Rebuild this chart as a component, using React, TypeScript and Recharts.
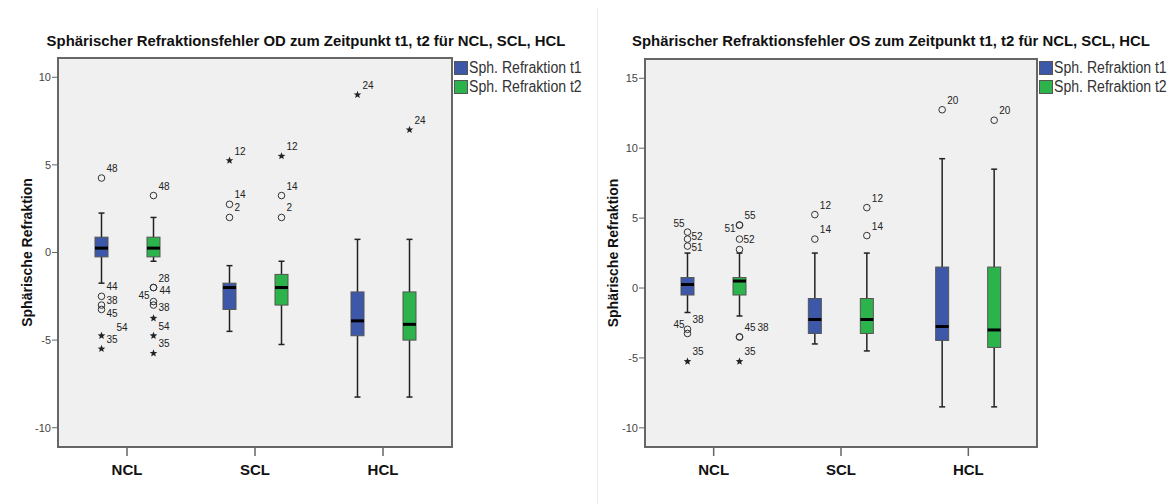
import { ComposedChart, Bar, XAxis, YAxis, CartesianGrid } from 'recharts';

const GROUPS = ['NCL', 'SCL', 'HCL'];
const SERIES_NAMES = ['Sph. Refraktion t1', 'Sph. Refraktion t2'];
const COLORS = ['#3D58A9', '#2DB34B'];
const FONT = '"Liberation Sans", Arial, sans-serif';
const FRAME = '#666';

// box summaries per group: [whisker low, Q1, median, Q3, whisker high]
const OD_T1 = [
  [-1.75, -0.25, 0.25, 0.875, 2.25],
  [-4.5, -3.25, -2.0, -1.75, -0.75],
  [-8.25, -4.75, -3.9, -2.25, 0.75],
];
const OD_T2 = [
  [-0.5, -0.25, 0.25, 0.875, 2.0],
  [-5.25, -3.0, -2.0, -1.25, -0.5],
  [-8.25, -5.0, -4.1, -2.25, 0.75],
];
const OS_T1 = [
  [-1.75, -0.5, 0.25, 0.75, 2.5],
  [-4.0, -3.25, -2.25, -0.75, 2.5],
  [-8.5, -3.75, -2.75, 1.5, 9.25],
];
const OS_T2 = [
  [-2.0, -0.5, 0.5, 0.75, 2.5],
  [-4.5, -3.25, -2.25, -0.75, 2.5],
  [-8.5, -4.25, -3.0, 1.5, 8.5],
];

// outliers per group: [value, case number, kind] (o = outlier, * = extreme)
type Out = [number, string, string];
const OD_T1_OUT: Out[][] = [
  [[4.25, '48', 'o'], [-2.5, '44', 'o'], [-3.0, '38', 'o'], [-3.25, '45', 'o'], [-4.75, '54', '*'], [-5.5, '35', '*']],
  [[5.25, '12', '*'], [2.75, '14', 'o'], [2.0, '2', 'o']],
  [[9.0, '24', '*']],
];
const OD_T2_OUT: Out[][] = [
  [[3.25, '48', 'o'], [-2.0, '28', 'o'], [-2.0, '44', 'o'], [-2.8, '45', 'o'], [-3.0, '38', 'o'], [-3.75, '', '*'], [-4.75, '54', '*'], [-5.75, '35', '*']],
  [[5.5, '12', '*'], [3.25, '14', 'o'], [2.0, '2', 'o']],
  [[7.0, '24', '*']],
];
const OS_T1_OUT: Out[][] = [
  [[4.0, '55', 'o'], [3.5, '52', 'o'], [3.0, '51', 'o'], [-2.95, '45', 'o'], [-3.25, '38', 'o'], [-5.25, '35', '*']],
  [[5.25, '12', 'o'], [3.5, '14', 'o']],
  [[12.75, '20', 'o']],
];
const OS_T2_OUT: Out[][] = [
  [[4.5, '55', 'o'], [4.5, '51', 'o'], [3.5, '52', 'o'], [2.75, '', 'o'], [-3.5, '45', 'o'], [-3.5, '38', 'o'], [-5.25, '35', '*']],
  [[5.75, '12', 'o'], [3.75, '14', 'o']],
  [[12.0, '20', 'o']],
];

const OD_TICKS = [-10, -5, 0, 5, 10];
const OS_TICKS = [-10, -5, 0, 5, 10, 15];

// label nudges where SPSS moved case numbers to avoid overlaps
const LABEL_NUDGE: Record<string, [number, number, string?]> = {
  'OD-NCL-0-38': [5, -1],
  'OD-NCL-0-45': [5, 8],
  'OD-NCL-0-54': [15, -5],
  'OD-NCL-1-44': [6, 6],
  'OD-NCL-1-45': [-4, -3, 'end'],
  'OD-NCL-1-38': [5, 6],
  'OS-NCL-0-55': [-3, -5, 'end'],
  'OS-NCL-0-52': [4, 1],
  'OS-NCL-0-51': [4, 5],
  'OS-NCL-0-45': [-3, -1, 'end'],
  'OS-NCL-0-38': [5, -10],
  'OS-NCL-1-51': [-4, 7, 'end'],
  'OS-NCL-1-52': [4, 4],
  'OS-NCL-1-38': [18, -6],
};

function buildRows(boxes: number[][][], outs: Out[][][]) {
  return GROUPS.map((g, i) => {
    const row: any = { name: g };
    boxes.forEach((b, s) => {
      const vals = [...b[i], ...outs[s][i].map((o) => o[0])];
      row['r' + s] = [Math.min(...vals), Math.max(...vals)];
      row['box' + s] = b[i];
      row['out' + s] = outs[s][i];
    });
    return row;
  });
}

function starPoints(cx: number, cy: number, R: number, r: number) {
  const pts: string[] = [];
  for (let k = 0; k < 10; k++) {
    const a = -Math.PI / 2 + (k * Math.PI) / 5;
    const rad = k % 2 === 0 ? R : r;
    pts.push(`${cx + rad * Math.cos(a)},${cy + rad * Math.sin(a)}`);
  }
  return pts.join(' ');
}

function BoxShape(props: any) {
  const { x, y, width, height, payload, s, chart } = props;
  const [lo, hi] = payload['r' + s];
  const top = Math.min(y, y + height);
  const bot = Math.max(y, y + height);
  const py = (v: number) => bot - ((v - lo) / (hi - lo || 1)) * (bot - top);
  const [wl, q1, med, q3, wh] = payload['box' + s];
  const cx = x + width / 2;
  const outs: Out[] = payload['out' + s];
  return (
    <g>
      <line x1={cx} x2={cx} y1={py(wl)} y2={py(wh)} stroke="#222" strokeWidth={1.5} />
      <line x1={cx - 3} x2={cx + 3} y1={py(wl)} y2={py(wl)} stroke="#222" strokeWidth={1.5} />
      <line x1={cx - 3} x2={cx + 3} y1={py(wh)} y2={py(wh)} stroke="#222" strokeWidth={1.5} />
      <rect x={x} y={py(q3)} width={width} height={py(q1) - py(q3)} fill={COLORS[s]} stroke="#555" strokeWidth={1} />
      <line x1={x} x2={x + width} y1={py(med)} y2={py(med)} stroke="#000" strokeWidth={3} />
      {outs.map(([v, lab, kind], k) => {
        const oy = py(v);
        const nudge = LABEL_NUDGE[`${chart}-${payload.name}-${s}-${lab}`] || [5, -6, 'start'];
        return (
          <g key={k}>
            {kind === 'o' ? (
              <circle cx={cx} cy={oy} r={3.3} fill="none" stroke="#333" strokeWidth={1} />
            ) : (
              <polygon points={starPoints(cx, oy, 4, 1.7)} fill="#222" />
            )}
            {lab && (
              <text x={cx + nudge[0]} y={oy + nudge[1]} fontSize={10} fill="#222" fontFamily={FONT} textAnchor={nudge[2] || 'start'}>
                {lab}
              </text>
            )}
          </g>
        );
      })}
    </g>
  );
}

interface PanelProps {
  id: string;
  title: string;
  rows: any[];
  domain: [number, number];
  ticks: number[];
  left: number;
  top: number;
  yWidth: number;
  plotWidth: number;
  titleX: number;
  labelX: number;
}

const PLOT_BOTTOM = 447;

function Panel({ id, title, rows, domain, ticks, left, top, yWidth, plotWidth, titleX, labelX }: PanelProps) {
  const bottom = 504 - PLOT_BOTTOM;
  return (
    <>
      <div style={{ position: 'absolute', left: titleX, top: 33, transform: 'translateX(-50%)', whiteSpace: 'nowrap', fontFamily: FONT, fontWeight: 'bold', fontSize: 14.9, lineHeight: '17px', color: '#111' }}>
        {title}
      </div>
      <div style={{ position: 'absolute', left, top: 0 }}>
        <ComposedChart
          width={yWidth + plotWidth + 4}
          height={504}
          data={rows}
          margin={{ top, right: 4, bottom: bottom - 40, left: 0 }}
          barGap={39}
          barSize={13}
        >
          <CartesianGrid horizontal={false} vertical={false} fill="#f0f0f0" fillOpacity={1} />
          <XAxis
            dataKey="name"
            height={40}
            padding={{ left: 5, right: 5 }}
            axisLine={false}
            tickLine={{ stroke: FRAME, strokeWidth: 1.5 }}
            tickSize={9}
            tickMargin={8}
            tick={{ fontSize: 15, fontWeight: 'bold', fill: '#111', fontFamily: FONT }}
          />
          <YAxis
            type="number"
            domain={domain}
            ticks={ticks}
            allowDataOverflow
            width={yWidth}
            axisLine={false}
            tickLine={{ stroke: FRAME }}
            tickSize={6}
            tickMargin={1}
            tick={{ fontSize: 11, fill: '#444', fontFamily: FONT }}
            label={{
              content: ({ viewBox }: any) => (
                <text
                  transform={`translate(${labelX},${viewBox.y + viewBox.height / 2}) rotate(-90)`}
                  textAnchor="middle"
                  dominantBaseline="central"
                  fontSize={14}
                  fontWeight="bold"
                  fill="#111"
                  fontFamily={FONT}
                >
                  Sphärische Refraktion
                </text>
              ),
            }}
          />
          {SERIES_NAMES.map((n, s) => (
            <Bar key={n} name={n} dataKey={'r' + s} isAnimationActive={false} shape={(p: any) => <BoxShape {...p} s={s} chart={id} />} />
          ))}
        </ComposedChart>
      </div>
      <div
        style={{
          position: 'absolute',
          left: left + yWidth - 1,
          top: top - 1,
          width: plotWidth + 2,
          height: PLOT_BOTTOM - top + 2,
          border: `2px solid ${FRAME}`,
          boxSizing: 'border-box',
          pointerEvents: 'none',
        }}
      />
      <div style={{ position: 'absolute', left: left + yWidth + plotWidth + 2, top: 58, fontFamily: FONT, fontSize: 16, color: '#333' }}>
        {SERIES_NAMES.map((n, s) => (
          <div key={n} style={{ display: 'flex', alignItems: 'center', height: 19, whiteSpace: 'nowrap' }}>
            <span style={{ width: 14, height: 14, flex: 'none', boxSizing: 'border-box', background: COLORS[s], border: '1px solid #555', marginRight: 1 }} />
            <span style={{ display: 'inline-block', transform: 'scaleX(0.88)', transformOrigin: 'left center' }}>{n}</span>
          </div>
        ))}
      </div>
    </>
  );
}

export default function App() {
  const odRows = buildRows([OD_T1, OD_T2], [OD_T1_OUT, OD_T2_OUT]);
  const osRows = buildRows([OS_T1, OS_T2], [OS_T1_OUT, OS_T2_OUT]);
  return (
    <div style={{ position: 'relative', width: 1173, height: 504, background: '#fff', overflow: 'hidden' }}>
      <style>{'body{margin:0}'}</style>
      <div style={{ position: 'absolute', left: 597, top: 8, width: 1, height: 496, background: '#ececec' }} />
      <Panel
        id="OD"
        title="Sphärischer Refraktionsfehler OD zum Zeitpunkt t1, t2 für NCL, SCL, HCL"
        rows={odRows}
        domain={[-11.1, 11.1]}
        ticks={OD_TICKS}
        left={0}
        top={58}
        yWidth={58}
        plotWidth={394}
        titleX={306}
        labelX={27}
      />
      <Panel
        id="OS"
        title="Sphärischer Refraktionsfehler OS zum Zeitpunkt t1, t2 für NCL, SCL, HCL"
        rows={osRows}
        domain={[-11.37, 16.38]}
        ticks={OS_TICKS}
        left={590}
        top={59}
        yWidth={55}
        plotWidth={392}
        titleX={891}
        labelX={23}
      />
    </div>
  );
}
